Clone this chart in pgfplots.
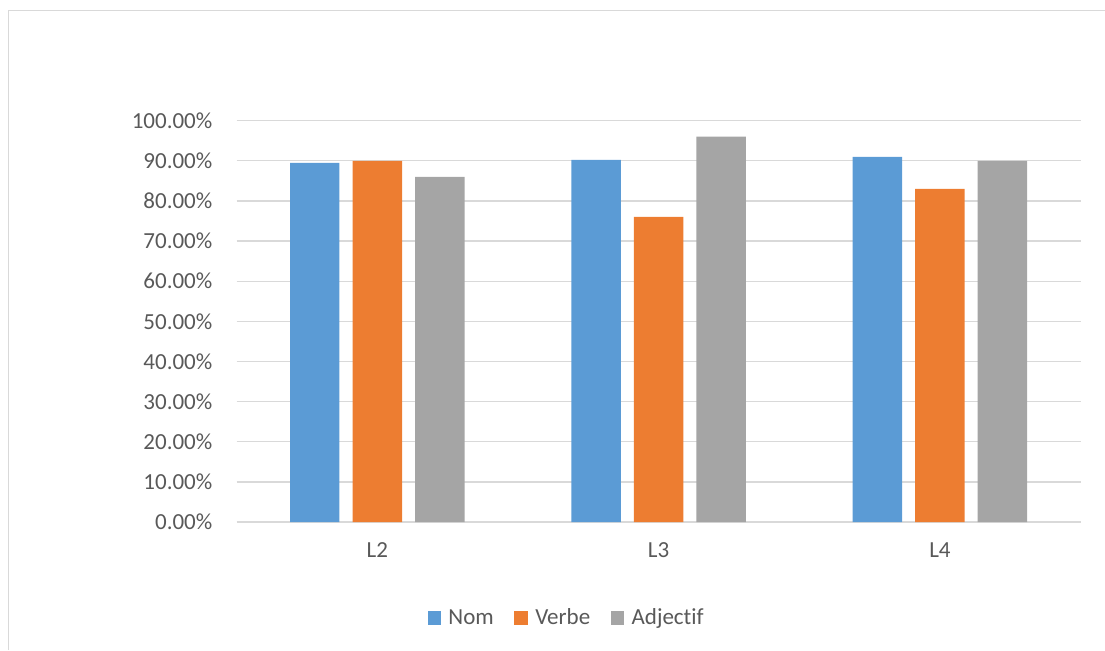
\documentclass[border=0pt]{standalone}
\usepackage{pgfplots}
\pgfplotsset{compat=1.18}
\usepackage{fontspec}
\setmainfont[Ligatures={NoCommon}]{Carlito}
\definecolor{cblue}{HTML}{5B9BD5}
\definecolor{corange}{HTML}{ED7D31}
\definecolor{cgray}{HTML}{A5A5A5}
\definecolor{gridc}{HTML}{D9D9D9}
\definecolor{txt}{HTML}{595959}
\begin{document}
\begin{tikzpicture}
\path[use as bounding box] (0,0) rectangle (828.75pt,487.5pt);
\draw[gridc,line width=1.2pt] (6.4pt,0pt) -- (6.4pt,479.6pt) -- (828.75pt,479.6pt);
\begin{axis}[
  at={(177.45pt,96pt)}, anchor=south west,
  scale only axis, width=633pt, height=301pt,
  ymin=0, ymax=100, xmin=-0.5, xmax=2.5,
  ybar=9.8pt, bar width=37.1pt,
  xtick={0,1,2}, xticklabels={L2,L3,L4},
  ytick={0,10,...,100},
  major tick length=0pt,
  axis line style={draw=none},
  ymajorgrids, grid style={draw=gridc,line width=1pt},
  font=\fontsize{17.25pt}{20pt}\selectfont,
  /pgf/number format/assume math mode=true,
  yticklabel={\pgfmathprintnumber[fixed,fixed zerofill,precision=2]{\tick}\%},
  yticklabel style={anchor=east,inner sep=0pt,xshift=-18pt,text=txt},
  xticklabel style={anchor=north,inner sep=0pt,yshift=-15pt,text=txt},
  legend columns=3,
  legend style={draw=none,at={(0.3915,-0.2392)},anchor=center,text=txt,
    font=\fontsize{17.25pt}{20pt}\selectfont,
    /tikz/every even column/.append style={column sep=13.5pt}},
  legend image code/.code={\fill[#1,/tikz/.cd,draw=none] (0pt,-4.9pt) rectangle (9.8pt,4.9pt);\path (13.6pt,0pt);},
]
\addplot[fill=cblue,draw=none] coordinates {(0,89.5) (1,90.2) (2,91)};
\addplot[fill=corange,draw=none] coordinates {(0,90) (1,76) (2,83)};
\addplot[fill=cgray,draw=none] coordinates {(0,86) (1,96) (2,90)};
\legend{Nom,Verbe,Adjectif}
\end{axis}
\end{tikzpicture}
\end{document}
